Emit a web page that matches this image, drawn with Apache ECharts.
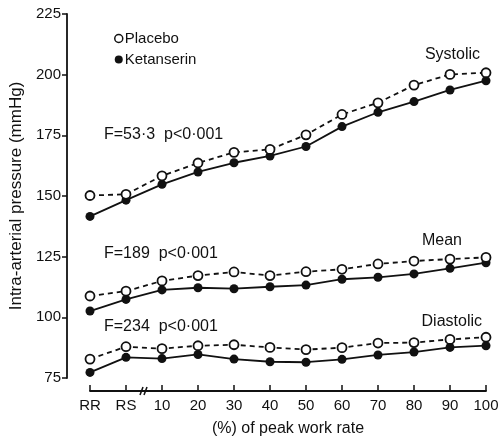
<!DOCTYPE html>
<html>
<head>
<meta charset="utf-8">
<script src="https://cdn.jsdelivr.net/npm/echarts@6/dist/echarts.min.js"></script>
<style>
  html, body { margin: 0; padding: 0; background: #fff; }
  #chart { width: 499px; height: 436px; }
</style>
</head>
<body>
<div id="chart"></div>
<script>
// Exercise stages: resting recumbent, resting sitting, then % of peak work rate
const stages = ['RR', 'RS', '10', '20', '30', '40', '50', '60', '70', '80', '90', '100'];

// Intra-arterial pressure (mmHg)
const systolicPlacebo    = [150.2, 150.7, 158.3, 163.6, 168.0, 169.2, 175.2, 183.6, 188.4, 195.7, 200.1, 200.8];
const systolicKetanserin = [141.6, 148.3, 154.8, 159.9, 163.7, 166.5, 170.4, 178.6, 184.5, 188.9, 193.7, 197.5];
const meanPlacebo        = [108.8, 110.8, 115.0, 117.2, 118.7, 117.2, 118.8, 119.8, 122.0, 123.2, 124.0, 124.7];
const meanKetanserin     = [102.6, 107.4, 111.3, 112.2, 111.8, 112.6, 113.3, 115.7, 116.5, 117.9, 120.2, 122.5];
const diastolicPlacebo    = [82.8, 87.9, 87.1, 88.3, 88.7, 87.6, 86.7, 87.5, 89.4, 89.6, 90.9, 91.8];
const diastolicKetanserin = [77.3, 83.5, 83.0, 84.7, 82.8, 81.7, 81.5, 82.7, 84.5, 85.7, 87.6, 88.3];

const yTicks = { min: 75, max: 225, step: 25 };

const FONT = 'Liberation Sans';
const INK = '#111';

function placeboSeries(data) {
  return {
    name: 'Placebo', type: 'line', data: data,
    symbol: 'circle', symbolSize: 9,
    itemStyle: { color: '#fff', borderColor: INK, borderWidth: 1.8 },
    lineStyle: { color: INK, width: 1.8, type: [5, 4] },
    z: 3
  };
}
function ketanserinSeries(data) {
  return {
    name: 'Ketanserin', type: 'line', data: data,
    symbol: 'circle', symbolSize: 9,
    itemStyle: { color: INK, borderColor: INK, borderWidth: 0 },
    lineStyle: { color: INK, width: 1.8 },
    z: 2
  };
}

const chart = echarts.init(document.getElementById('chart'), null, { renderer: 'canvas' });

const textStyle = { fontFamily: FONT, fontSize: 16, fill: INK };

chart.setOption({
  animation: false,
  backgroundColor: '#fff',
  textStyle: { fontFamily: FONT, color: INK },
  grid: { left: 90, right: 13, top: 14, bottom: 58, containLabel: false, outerBoundsMode: 'none' },
  legend: {
    orient: 'vertical', left: 109, top: 26,
    itemWidth: 8, itemHeight: 8, itemGap: 6,
    textStyle: { fontFamily: FONT, fontSize: 15, color: INK, padding: [0, 0, 0, -3] },
    data: [
      { name: 'Placebo', icon: 'circle', itemStyle: { color: '#fff', borderColor: INK, borderWidth: 1.5 } },
      { name: 'Ketanserin', icon: 'circle', itemStyle: { color: INK, borderWidth: 0 } }
    ]
  },
  xAxis: {
    type: 'category', data: stages, boundaryGap: false, offset: 13,
    name: '(%) of peak work rate', nameLocation: 'middle', nameGap: 30,
    nameTextStyle: { fontFamily: FONT, fontSize: 16, color: INK },
    axisLine: { lineStyle: { color: INK, width: 1.8 } },
    axisTick: { inside: true, length: 6, interval: 0, lineStyle: { color: INK, width: 1.5 } },
    axisLabel: { fontFamily: FONT, fontSize: 15, color: INK, margin: 7, interval: 0 },
    splitLine: { show: false }
  },
  yAxis: {
    type: 'value', min: yTicks.min, max: yTicks.max, interval: yTicks.step, offset: 23,
    name: 'Intra-arterial pressure (mmHg)', nameLocation: 'middle', nameGap: 35,
    nameTextStyle: { fontFamily: FONT, fontSize: 17, color: INK },
    axisLine: { show: true, lineStyle: { color: INK, width: 1.8 } },
    axisTick: { show: true, length: 5, lineStyle: { color: INK, width: 1.5 } },
    axisLabel: { fontFamily: FONT, fontSize: 15, color: INK, margin: 6 },
    splitLine: { show: false }
  },
  series: [
    placeboSeries(systolicPlacebo), ketanserinSeries(systolicKetanserin),
    placeboSeries(meanPlacebo), ketanserinSeries(meanKetanserin),
    placeboSeries(diastolicPlacebo), ketanserinSeries(diastolicKetanserin)
  ]
});

// Break mark on the x axis between RS and 10, plus curve and statistics labels
const pRS = chart.convertToPixel({ xAxisIndex: 0 }, 'RS');
const p10 = chart.convertToPixel({ xAxisIndex: 0 }, '10');
const axisY = chart.convertToPixel({ yAxisIndex: 0 }, yTicks.min) + 13;
const bx = (pRS + p10) / 2;

chart.setOption({
  graphic: [
    { type: 'line', shape: { x1: bx - 4, y1: axisY + 4, x2: bx - 1, y2: axisY - 4 }, style: { stroke: INK, lineWidth: 1.5 } },
    { type: 'line', shape: { x1: bx, y1: axisY + 4, x2: bx + 3, y2: axisY - 4 }, style: { stroke: INK, lineWidth: 1.5 } },
    { type: 'text', left: 104, top: 127, style: Object.assign({ text: 'F=53·3  p<0·001' }, textStyle) },
    { type: 'text', left: 104, top: 246, style: Object.assign({ text: 'F=189  p<0·001' }, textStyle) },
    { type: 'text', left: 104, top: 319, style: Object.assign({ text: 'F=234  p<0·001' }, textStyle) },
    { type: 'text', right: 19, top: 47, style: Object.assign({ text: 'Systolic' }, textStyle) },
    { type: 'text', right: 37, top: 233, style: Object.assign({ text: 'Mean' }, textStyle) },
    { type: 'text', right: 17, top: 314, style: Object.assign({ text: 'Diastolic' }, textStyle) }
  ]
});
</script>
</body>
</html>
